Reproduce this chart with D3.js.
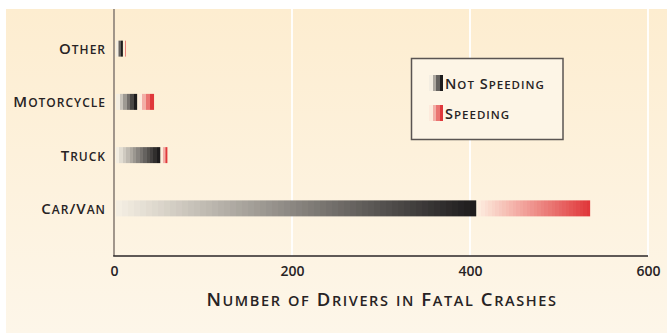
<!DOCTYPE html>
<html>
<head>
<meta charset="utf-8">
<script src="https://cdn.jsdelivr.net/npm/d3@7"></script>
<style>
  html, body { margin: 0; padding: 0; background: #ffffff; }
  svg { display: block; }
  text { font-family: "Open Sans", "DejaVu Sans", sans-serif; font-weight: 600; fill: #272324; }
</style>
</head>
<body>
<svg id="chart" width="667" height="333"></svg>
<script>
// Vehicle types, top to bottom
const categories = ["Other", "Motorcycle", "Truck", "Car/Van"];
// Drivers in fatal crashes, by speeding status
const notSpeeding = [10, 26, 52, 407];
const speeding = [3, 19, 8, 128];
// Axis
const xTicks = [0, 200, 400, 600];
const xTitle = "Number of Drivers in Fatal Crashes";
const seriesNames = ["Not Speeding", "Speeding"];

const svg = d3.select("#chart");
const defs = svg.append("defs");

// Panel background: soft vertical cream wash
const bg = defs.append("linearGradient").attr("id", "bg")
  .attr("x1", 0).attr("y1", 0).attr("x2", 0).attr("y2", 1);
bg.append("stop").attr("offset", 0).attr("stop-color", "#fdedd0");
bg.append("stop").attr("offset", 1).attr("stop-color", "#fdf6e9");
svg.append("rect").attr("x", 6).attr("y", 9).attr("width", 661).attr("height", 324)
  .attr("fill", "url(#bg)");

const x = d3.scaleLinear().domain([0, 600]).range([114, 648]);
const y = d3.scalePoint().domain(categories).range([22, 235]).padding(0.5);
const barH = 16;
const plotTop = 9, plotBottom = 256;

// Stepped (banded) horizontal gradient
let gid = 0;
function bandGradient(width, c0, c1) {
  const id = "g" + (gid++);
  const n = Math.max(4, Math.min(60, Math.round(width / 3.5)));
  const interp = d3.interpolateRgb(c0, c1);
  const g = defs.append("linearGradient").attr("id", id)
    .attr("x1", 0).attr("y1", 0).attr("x2", 1).attr("y2", 0);
  for (let i = 0; i < n; i++) {
    const c = interp(n === 1 ? 1 : i / (n - 1));
    g.append("stop").attr("offset", i / n).attr("stop-color", c);
    g.append("stop").attr("offset", (i + 1) / n).attr("stop-color", c);
  }
  return "url(#" + id + ")";
}
const nsColors = ["#f4eee2", "#1e1c1d"];
const spColors = ["#fdebdd", "#e0383b"];

// White gridlines
svg.append("g").selectAll("line").data(xTicks.filter(d => d > 0)).join("line")
  .attr("x1", d => x(d)).attr("x2", d => x(d))
  .attr("y1", plotTop).attr("y2", plotBottom)
  .attr("stroke", "#ffffff").attr("stroke-width", 1.8);

// Bars
const bars = svg.append("g");
categories.forEach((cat, i) => {
  const yc = y(cat);
  const x0 = x(0) + 2, x1 = x(notSpeeding[i]);
  bars.append("rect")
    .attr("x", x0).attr("y", yc - barH / 2)
    .attr("width", x1 - x0).attr("height", barH)
    .attr("fill", bandGradient(x1 - x0, nsColors[0], nsColors[1]));
  const s0 = x1 + 1.5, s1 = x(notSpeeding[i] + speeding[i]);
  bars.append("rect")
    .attr("x", s0).attr("y", yc - barH / 2)
    .attr("width", Math.max(1, s1 - s0)).attr("height", barH)
    .attr("fill", bandGradient(s1 - s0, spColors[0], spColors[1]));
});

// Axis lines
svg.append("line").attr("x1", x(0)).attr("x2", x(0))
  .attr("y1", plotTop).attr("y2", plotBottom)
  .attr("stroke", "#8a7f76").attr("stroke-width", 1.6);
svg.append("line").attr("x1", x(0) - 0.8).attr("x2", x(600))
  .attr("y1", plotBottom).attr("y2", plotBottom)
  .attr("stroke", "#2a2627").attr("stroke-width", 1.4);

// Small-caps writer: lowercase runs become smaller capitals
function smallCaps(sel, text, big, small) {
  const runs = [];
  for (const ch of text) {
    const isLower = ch !== ch.toUpperCase();
    const last = runs[runs.length - 1];
    if (last && last.lower === isLower) last.t += ch;
    else runs.push({ t: ch, lower: isLower });
  }
  runs.forEach(r => {
    sel.append("tspan")
      .attr("font-size", r.lower ? small : big)
      .text(r.lower ? r.t.toUpperCase() : r.t);
  });
}

// Tick labels
const xAxis = d3.axisBottom(x).tickValues(xTicks).tickSize(0).tickPadding(0);
const ax = svg.append("g").attr("transform", "translate(0,265)").call(xAxis);
ax.select(".domain").remove();
ax.selectAll("text")
  .attr("font-size", 14).attr("font-family", null).attr("fill", "#272324")
  .attr("dy", "0.78em");

// Category labels
categories.forEach(cat => {
  const t = svg.append("text").attr("x", 106).attr("y", y(cat) + 5.5)
    .attr("text-anchor", "end").attr("letter-spacing", 1);
  smallCaps(t, cat, 15, 12);
});

// Axis title
const tt = svg.append("text").attr("x", (x(0) + x(600)) / 2 + 1).attr("y", 306)
  .attr("text-anchor", "middle").attr("letter-spacing", 1.6);
smallCaps(tt, xTitle, 18.5, 14.5);

// Legend
const lg = svg.append("g");
lg.append("rect").attr("x", 411.5).attr("y", 58.5).attr("width", 151.5).attr("height", 81)
  .attr("fill", "#fdf5e6").attr("stroke", "#5a5452").attr("stroke-width", 1.5);
const legendRows = [
  { name: seriesNames[0], colors: nsColors, y: 75 },
  { name: seriesNames[1], colors: spColors, y: 105 }
];
legendRows.forEach(r => {
  lg.append("rect").attr("x", 429).attr("y", r.y).attr("width", 14).attr("height", 16)
    .attr("fill", bandGradient(14, r.colors[0], r.colors[1]));
  const t = lg.append("text").attr("x", 445).attr("y", r.y + 13.5).attr("letter-spacing", 1);
  smallCaps(t, r.name, 14.5, 11.5);
});
</script>
</body>
</html>
